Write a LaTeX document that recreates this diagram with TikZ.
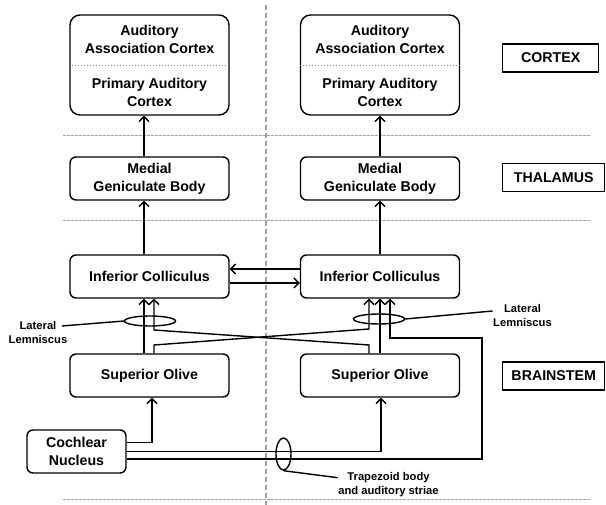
\documentclass[tikz,border=0pt]{standalone}
\usepackage{fontspec}
\setmainfont{Liberation Sans}
\usetikzlibrary{arrows.meta,shapes.geometric}

\newcommand{\boxfont}{\fontsize{14.2}{18}\selectfont\bfseries}
\newcommand{\notefont}{\fontsize{11.2}{14.5}\selectfont\bfseries}

\begin{document}
\begin{tikzpicture}[x=1pt, y=-1pt, line width=1.4pt,
  every node/.style={align=center},
  area/.style={draw, rounded corners=6pt, minimum width=159pt, minimum height=43pt, inner sep=0pt, font=\boxfont},
  txt/.style={inner sep=0pt, font=\boxfont},
  tag/.style={draw, anchor=west, minimum height=28pt, inner sep=0pt, font=\boxfont},
  note/.style={inner sep=0pt, font=\notefont},
  ring/.style={draw, ellipse, inner sep=0pt},
  arr/.style={-{Straight Barb[length=5pt,width=10pt]}},
  sep/.style={gray!75, line width=1.5pt, dash pattern=on 3pt off 1pt}]
  \useasboundingbox (0,0) rectangle (606,505);

  % level separators
  \draw[sep, line width=1.2pt, dash pattern=on 5pt off 3pt] (266,5) -- (266,505);
  \draw[sep] (63,135.5) -- (590,135.5);
  \draw[sep] (63,220.5) -- (590,220.5);
  \draw[sep] (63,499.5) -- (590,499.5);

  % left side
  \node[area, minimum height=100pt, rounded corners=10pt] (ctxL) at (149.5,65) {};
  \draw[gray, dotted, line width=1pt] ([yshift=-1pt]ctxL.west) -- ([yshift=-1pt]ctxL.east);
  \node[txt] (aacL) at (149.5,39) {Auditory\\Association Cortex};
  \node[txt] (pacL) at (149.5,92.5) {Primary Auditory\\Cortex};
  \node[area] (mgbL) at (149.5,178.5) {Medial\\Geniculate Body};
  \node[area] (icL) at (149.5,276.5) {Inferior Colliculus};
  \node[area] (soL) at (149.5,375.5) {Superior Olive};
  \node[area, minimum width=99pt] (cn) at (76.5,451.5) {Cochlear\\Nucleus};

  % right side
  \node[area, minimum height=100pt, rounded corners=10pt] (ctxR) at (380,65) {};
  \draw[gray, dotted, line width=1pt] ([yshift=-1pt]ctxR.west) -- ([yshift=-1pt]ctxR.east);
  \node[txt] (aacR) at (380,39) {Auditory\\Association Cortex};
  \node[txt] (pacR) at (380,92.5) {Primary Auditory\\Cortex};
  \node[area] (mgbR) at (380,178.5) {Medial\\Geniculate Body};
  \node[area] (icR) at (380,276.5) {Inferior Colliculus};
  \node[area] (soR) at (380,375.5) {Superior Olive};

  % level tags
  \node[tag, minimum width=96pt] (cortex) at (502,58) {CORTEX};
  \node[tag, minimum width=102pt] (thal) at (502,177.5) {THALAMUS};
  \node[tag, minimum width=102pt] (brain) at (502,376) {BRAINSTEM};

  % ascending pathway
  \draw[arr] ([xshift=-5.5pt]mgbL.north) -- ([xshift=-5.5pt]ctxL.south);
  \draw[arr] ([xshift=-5.5pt]icL.north) -- ([xshift=-5.5pt]mgbL.south);
  \draw[arr] ([xshift=-5.5pt]soL.north) -- ([xshift=-5.5pt]icL.south);
  \draw[arr] (mgbR.north) -- (ctxR.south);
  \draw[arr] (icR.north) -- (mgbR.south);
  \draw[arr] (soR.north) -- (icR.south);

  % commissural links
  \draw[arr] ([yshift=7.5pt]icR.west) -- ([yshift=7.5pt]icL.east);
  \draw[arr] ([yshift=-6.5pt]icL.east) -- ([yshift=-6.5pt]icR.west);

  % crossing fibres
  \coordinate (xL1) at (154,345);
  \coordinate (xR1) at (369,329);
  \coordinate (xR2) at (369,345);
  \coordinate (xL2) at (154,330);
  \draw[arr] ([xshift=4.5pt]soL.north) -- (xL1) -- (xR1) -- ([xshift=-11pt]icR.south);
  \draw[arr] ([xshift=-11pt]soR.north) -- (xR2) -- (xL2) -- ([xshift=4.5pt]icL.south);

  % from cochlear nucleus
  \coordinate (bend) at (482,338);
  \draw[arr] ([yshift=8.8pt]cn.east) -| ([xshift=2.5pt]soL.south);
  \draw[arr] (cn.east) -| ([xshift=1pt]soR.south);
  \draw[arr] ([yshift=-7.5pt]cn.east) -| (bend) -| ([xshift=10pt]icR.south);

  % lemnisci and trapezoid body
  \node[ring, minimum width=51pt, minimum height=10pt] (llL) at (150,321) {};
  \node[ring, minimum width=51pt, minimum height=10pt] (llR) at (379,319) {};
  \node[ring, minimum width=15pt, minimum height=32pt] (trz) at (283.5,454) {};
  \node[note] (labL) at (38,332.5) {Lateral\\Lemniscus};
  \node[note] (labR) at (522.5,315.5) {Lateral\\Lemniscus};
  \node[note] (labT) at (388.5,484.7) {Trapezoid body\\and auditory striae};
  \draw ([xshift=-6pt,yshift=6.5pt]labL.east) -- (llL.west);
  \draw (llR.east) -- ([yshift=4.5pt]labR.west);
  \draw (trz.south) -- ([yshift=7pt]labT.west);
\end{tikzpicture}
\end{document}
